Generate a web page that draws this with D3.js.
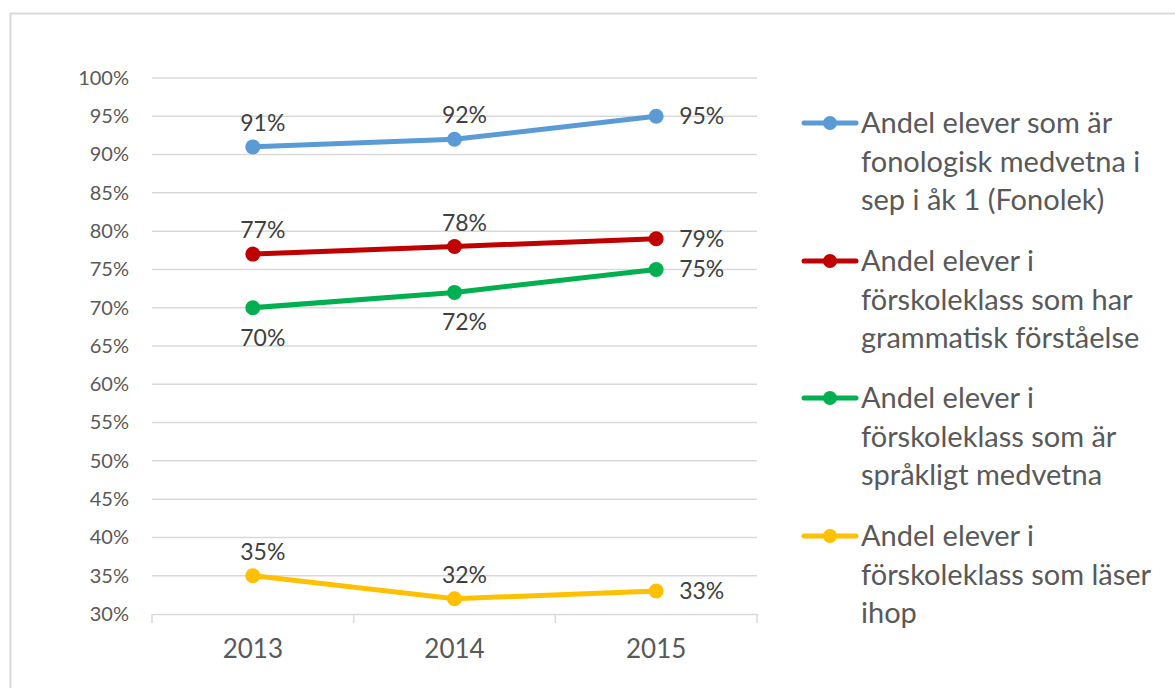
<!DOCTYPE html>
<html>
<head>
<meta charset="utf-8">
<script src="https://cdn.jsdelivr.net/npm/d3@7"></script>
<style>
  body { margin: 0; background: #fff; }
  text { font-family: Lato, "Open Sans", sans-serif; }
</style>
</head>
<body>
<div id="chart"></div>
<script>
// chart data
var years = ["2013", "2014", "2015"];
var fonolek = [91, 92, 95];
var grammatik = [77, 78, 79];
var sprakligt = [70, 72, 75];
var laser = [35, 32, 33];
var yTicks = [30, 35, 40, 45, 50, 55, 60, 65, 70, 75, 80, 85, 90, 95, 100];
var seriesNames = [
  ["Andel elever som är", "fonologisk medvetna i", "sep i åk 1 (Fonolek)"],
  ["Andel elever i", "förskoleklass som har", "grammatisk förståelse"],
  ["Andel elever i", "förskoleklass som är", "språkligt medvetna"],
  ["Andel elever i", "förskoleklass som läser", "ihop"]
];
var colors = ["#5B9BD5", "#C00000", "#00B050", "#FFC000"];
// where the first two labels sit: above or below the point
var labelSide = ["above", "above", "below", "above"];

var series = [fonolek, grammatik, sprakligt, laser];

var W = 1175, H = 688;
var svg = d3.select("#chart").append("svg")
  .attr("width", W)
  .attr("height", H);

// outer chart border
svg.append("rect")
  .attr("x", 10.5).attr("y", 13.5)
  .attr("width", 1200).attr("height", 700)
  .attr("fill", "none")
  .attr("stroke", "#D9D9D9")
  .attr("stroke-width", 2);

var plotL = 152, plotR = 757, plotT = 78, plotB = 614;

var x = d3.scaleBand().domain(years).range([plotL, plotR]);
var y = d3.scaleLinear().domain([30, 100]).range([plotB, plotT]);

// gridlines
svg.append("g").selectAll("line")
  .data(yTicks.slice(1))
  .enter().append("line")
  .attr("x1", plotL).attr("x2", plotR)
  .attr("y1", function(d) { return y(d); })
  .attr("y2", function(d) { return y(d); })
  .attr("stroke", "#D9D9D9")
  .attr("stroke-width", 1.5);

// y axis labels
var yAxis = d3.axisLeft(y)
  .tickValues(yTicks)
  .tickSize(0)
  .tickPadding(23)
  .tickFormat(function(d) { return d + "%"; });

svg.append("g")
  .attr("transform", "translate(" + plotL + ",0)")
  .call(yAxis)
  .call(function(g) { g.select(".domain").remove(); })
  .selectAll("text")
  .attr("fill", "#595959")
  .style("font-size", "20px");

// x axis
var xAxis = d3.axisBottom(x).tickSize(0).tickPadding(26);
var gx = svg.append("g")
  .attr("transform", "translate(0," + plotB + ")")
  .call(xAxis);
gx.select(".domain").attr("stroke", "#D9D9D9").attr("stroke-width", 1.5);
gx.selectAll("text")
  .attr("fill", "#595959")
  .style("font-size", "26px");

// category separator ticks
var edges = years.map(function(d) { return x(d); }).concat([plotR]);
gx.selectAll(".sep")
  .data(edges)
  .enter().append("line")
  .attr("class", "sep")
  .attr("x1", function(d) { return d; })
  .attr("x2", function(d) { return d; })
  .attr("y1", 0).attr("y2", 9)
  .attr("stroke", "#D9D9D9")
  .attr("stroke-width", 1.5);

var line = d3.line()
  .x(function(d, i) { return x(years[i]) + x.bandwidth() / 2; })
  .y(function(d) { return y(d); });

series.forEach(function(vals, s) {
  var g = svg.append("g");

  g.append("path")
    .datum(vals)
    .attr("d", line)
    .attr("fill", "none")
    .attr("stroke", colors[s])
    .attr("stroke-width", 5)
    .attr("stroke-linecap", "round");

  g.selectAll("circle")
    .data(vals)
    .enter().append("circle")
    .attr("cx", function(d, i) { return x(years[i]) + x.bandwidth() / 2; })
    .attr("cy", function(d) { return y(d); })
    .attr("r", 7.5)
    .attr("fill", colors[s]);

  // data labels
  g.selectAll(".lbl")
    .data(vals)
    .enter().append("text")
    .attr("class", "lbl")
    .attr("x", function(d, i) {
      var cx = x(years[i]) + x.bandwidth() / 2;
      return i === vals.length - 1 ? cx + 23 : cx + 10;
    })
    .attr("y", function(d, i) {
      if (i === vals.length - 1) return y(d);
      return labelSide[s] === "above" ? y(d) - 24 : y(d) + 30;
    })
    .attr("dy", "0.35em")
    .attr("text-anchor", function(d, i) { return i === vals.length - 1 ? "start" : "middle"; })
    .attr("fill", "#404040")
    .style("font-size", "23px")
    .text(function(d) { return d + "%"; });
});

// legend
var legendTop = [123, 261, 398, 536];
var lg = svg.append("g");
seriesNames.forEach(function(lines, s) {
  var item = lg.append("g").attr("transform", "translate(0," + legendTop[s] + ")");
  item.append("line")
    .attr("x1", 804).attr("x2", 856)
    .attr("y1", 0).attr("y2", 0)
    .attr("stroke", colors[s])
    .attr("stroke-width", 5)
    .attr("stroke-linecap", "round");
  item.append("circle")
    .attr("cx", 830).attr("cy", 0).attr("r", 7)
    .attr("fill", colors[s]);
  item.selectAll("text")
    .data(lines)
    .enter().append("text")
    .attr("x", 861)
    .attr("y", function(d, i) { return i * 38.5; })
    .attr("dy", "0.35em")
    .attr("fill", "#595959")
    .style("font-size", "29px")
    .text(function(d) { return d; });
});
</script>
</body>
</html>
